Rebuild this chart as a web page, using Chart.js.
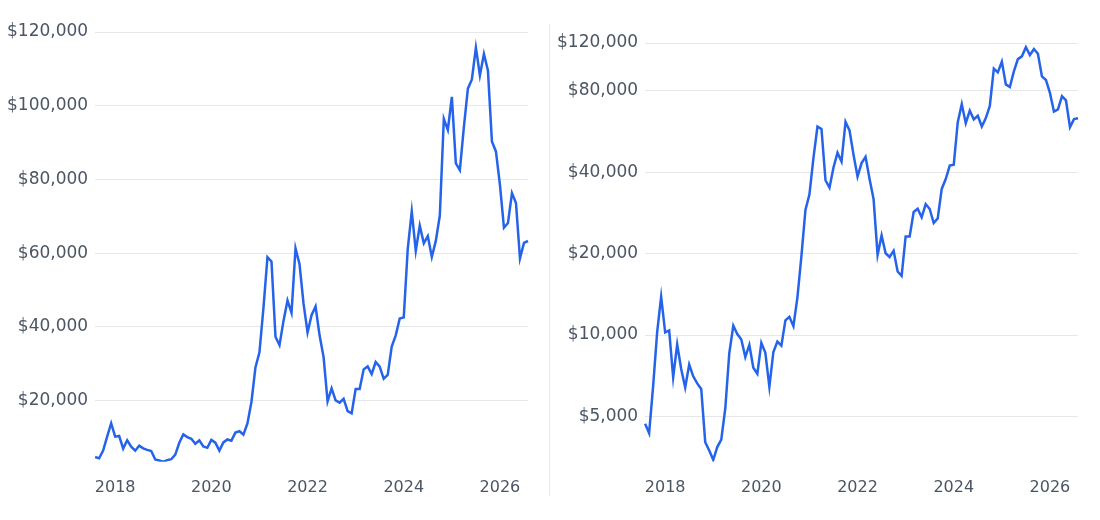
<!DOCTYPE html>
<html>
<head>
<meta charset="utf-8">
<script src="https://cdn.jsdelivr.net/npm/chart.js@4.4.1/dist/chart.umd.min.js"></script>
<style>
  html, body { margin: 0; padding: 0; background: #ffffff; }
  #wrap { position: relative; width: 1100px; height: 520px; overflow: hidden; }
  .panel { position: absolute; top: 0; width: 550px; height: 520px; }
  #leftPanel { left: 0; }
  #rightPanel { left: 550px; }
  #divider { position: absolute; left: 549px; top: 24px; width: 1px; height: 472px; background: #e5e7eb; }
</style>
</head>
<body>
<div id="wrap">
  <div class="panel" id="leftPanel"><canvas id="linChart" width="550" height="520"></canvas></div>
  <div id="divider"></div>
  <div class="panel" id="rightPanel"><canvas id="logChart" width="550" height="520"></canvas></div>
</div>
<script>
// Monthly categories (Aug 2017 – Aug 2026)
const months = [
  '2017-08','2017-09','2017-10','2017-11','2017-12',
  '2018-01','2018-02','2018-03','2018-04','2018-05','2018-06','2018-07','2018-08','2018-09','2018-10','2018-11','2018-12',
  '2019-01','2019-02','2019-03','2019-04','2019-05','2019-06','2019-07','2019-08','2019-09','2019-10','2019-11','2019-12',
  '2020-01','2020-02','2020-03','2020-04','2020-05','2020-06','2020-07','2020-08','2020-09','2020-10','2020-11','2020-12',
  '2021-01','2021-02','2021-03','2021-04','2021-05','2021-06','2021-07','2021-08','2021-09','2021-10','2021-11','2021-12',
  '2022-01','2022-02','2022-03','2022-04','2022-05','2022-06','2022-07','2022-08','2022-09','2022-10','2022-11','2022-12',
  '2023-01','2023-02','2023-03','2023-04','2023-05','2023-06','2023-07','2023-08','2023-09','2023-10','2023-11','2023-12',
  '2024-01','2024-02','2024-03','2024-04','2024-05','2024-06','2024-07','2024-08','2024-09','2024-10','2024-11','2024-12',
  '2025-01','2025-02','2025-03','2025-04','2025-05','2025-06','2025-07','2025-08','2025-09','2025-10','2025-11','2025-12',
  '2026-01','2026-02','2026-03','2026-04','2026-05','2026-06','2026-07','2026-08'
];

// Monthly price (USD)
const prices = [
  4703, 4338, 6468, 10233, 13860,
  10221, 10397, 6973, 9240, 7494, 6404, 7780, 7037, 6625, 6318, 4017, 3742,
  3457, 3854, 4105, 5350, 8574, 10817, 10085, 9630, 8293, 9199, 7569, 7193,
  9350, 8600, 6438, 8658, 9461, 9137, 11323, 11681, 10784, 13781, 19626, 29002,
  33114, 45138, 58918, 57750, 37332, 35041, 41626, 47167, 43791, 61318, 57005, 46306,
  38483, 43193, 45538, 37714, 31792, 19785, 23337, 20050, 19432, 20495, 17168, 16548,
  23139, 23147, 28478, 29268, 27220, 30477, 29230, 25931, 26968, 34667, 37713, 42265,
  42582, 61198, 71334, 60637, 67491, 62678, 64620, 58970, 63329, 70215, 96449, 93429,
  102405, 84373, 82549, 94207, 104638, 107135, 115758, 108236, 114049, 109556, 90300, 87600,
  78500, 66900, 68200, 76300, 73600, 58600, 62800, 63300
];

// Axis tick labels
const xTickLabels = ['2018', '2020', '2022', '2024', '2026'];
const linearTicks = [20000, 40000, 60000, 80000, 100000, 120000];
const logTicks = [5000, 10000, 20000, 40000, 80000, 120000];
const axisMin = 3400;
const axisMax = 120000;

const XFONT = { family: 'DejaVu Sans', size: 16 };
const YFONT = { family: 'DejaVu Sans', size: 17 };
const TEXT = '#4b5563';
const GRID = '#e5e7eb';
const LINE = '#2563eb';

function money(v) { return '$' + Number(v).toLocaleString('en-US'); }

function xTickCallback(value, index) {
  const lab = months[index];
  const y = lab.slice(0, 4), m = lab.slice(5);
  if (m === '01' && xTickLabels.includes(y)) return y;
  return null;
}

function makeChart(id, yType, ticks, padTop) {
  return new Chart(document.getElementById(id), {
    type: 'line',
    data: {
      labels: months,
      datasets: [{
        data: prices,
        borderColor: LINE,
        borderWidth: 2.5,
        pointRadius: 0,
        pointHoverRadius: 0,
        tension: 0,
        fill: false
      }]
    },
    options: {
      responsive: false,
      animation: false,
      events: [],
      layout: { padding: { top: padTop, right: 22, bottom: 7, left: 0 } },
      plugins: { legend: { display: false }, tooltip: { enabled: false }, title: { display: false } },
      scales: {
        x: {
          type: 'category',
          offset: false,
          grid: { display: false, drawTicks: false },
          border: { display: false },
          ticks: {
            autoSkip: false, maxRotation: 0, minRotation: 0,
            font: XFONT, color: TEXT, padding: 16,
            callback: xTickCallback
          }
        },
        y: {
          type: yType,
          min: axisMin,
          max: axisMax,
          grid: { color: GRID, lineWidth: 1, drawTicks: false },
          border: { display: false },
          afterBuildTicks: (scale) => { scale.ticks = ticks.map(v => ({ value: v })); },
          ticks: {
            font: YFONT, color: TEXT, padding: 7,
            callback: (v) => money(v)
          }
        }
      }
    }
  });
}

makeChart('linChart', 'linear', linearTicks, 32);
makeChart('logChart', 'logarithmic', logTicks, 43);
</script>
</body>
</html>
